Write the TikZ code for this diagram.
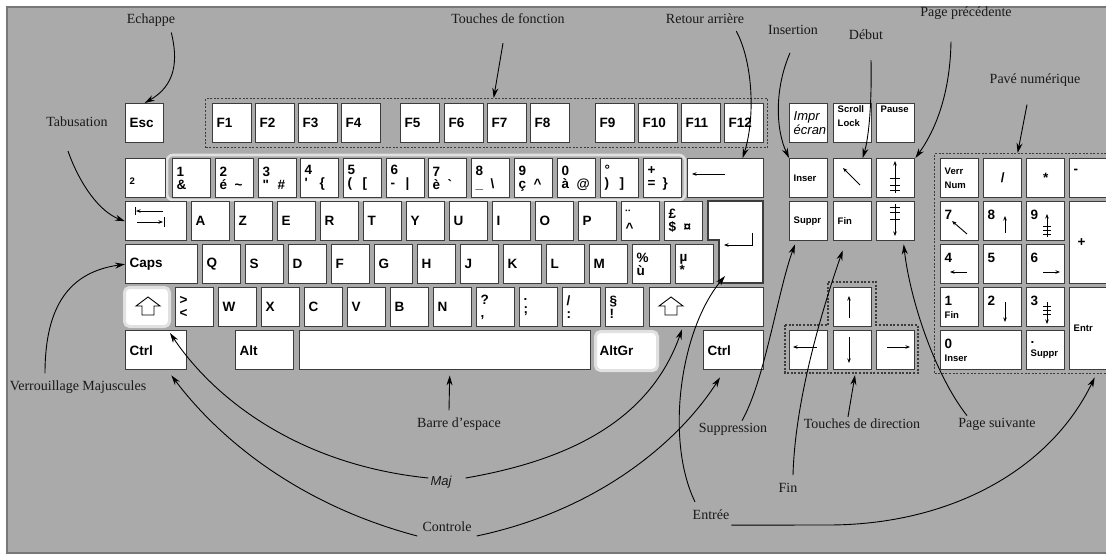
\documentclass[tikz,border=0pt]{standalone}
\usepackage{fontspec}
\setmainfont{Liberation Serif}
\setsansfont{Liberation Sans}
\usetikzlibrary{arrows.meta}

\definecolor{backgray}{RGB}{170,170,170}
\definecolor{bordergray}{RGB}{120,120,120}
\definecolor{keyedge}{RGB}{60,60,60}
\definecolor{glowgray}{RGB}{225,225,225}

\newcommand{\keypair}[2]{\makebox[15pt][l]{#1}#2}
\newcommand{\keysmall}{\fontsize{9.5}{13}\selectfont}

\tikzset{
	key/.style={draw=keyedge, line width=1.4pt, fill=white, anchor=north west, minimum height=39pt, inner xsep=4pt, inner ysep=0pt, align=left, text width=#1, font=\sffamily\bfseries\fontsize{13.5}{13}\selectfont},
	key/.default=30pt,
	smallkey/.style={font=\sffamily\bfseries\fontsize{9.5}{14}\selectfont},
	dots/.style={draw=keyedge, line width=1.3pt, dash pattern=on 2pt off 1.6pt},
	group/.style={dots, anchor=north west, inner sep=0pt},
	glow/.style={draw=glowgray, line width=2.6pt, rounded corners=6pt},
	caption/.style={font=\fontsize{14}{14}\selectfont, text=black!90, inner sep=2pt},
	pointer/.style={-{Stealth[length=10pt,width=6pt]}, line width=0.9pt},
	glyph/.style={-{Stealth[length=4.5pt,width=3.5pt]}, line width=0.9pt},
}

\begin{document}
\begin{tikzpicture}[x=1pt, y=-1pt]
	
	\useasboundingbox (0, 0) rectangle (1106, 556);
	\clip (0, 0) rectangle (1106, 556);
	\fill[white] (0, 0) rectangle (1106, 556);
	\draw[fill=backgray, draw=bordergray, line width=1.5pt] (7, 7) rectangle (1115, 553);
	
	\node[group, minimum width=562pt, minimum height=49pt] (fkeys) at (205, 98) {};
	\node[group, minimum width=190pt, minimum height=220pt] (numpad) at (934, 153) {};
	\draw[dots] (785, 325) -- (828, 325) -- (828, 282) -- (876, 282) -- (876, 325) -- (918, 325) -- (918, 373) -- (785, 373) -- cycle;
	\coordinate (dirbox) at (855, 375);
	\draw[glow] (167, 155) rectangle (685, 200);
	
	\node[key] (esc) at (125, 103) {Esc};
	\node[key=31pt] (f1)  at (212, 103) {F1};
	\node[key=31pt] (f2)  at (255, 103) {F2};
	\node[key=31pt] (f3)  at (298, 103) {F3};
	\node[key=31pt] (f4)  at (341, 103) {F4};
	\node[key=31pt] (f5)  at (400, 103) {F5};
	\node[key=31pt] (f6)  at (444, 103) {F6};
	\node[key=31pt] (f7)  at (487, 103) {F7};
	\node[key=31pt] (f8)  at (530, 103) {F8};
	\node[key=31pt] (f9)  at (595, 103) {F9};
	\node[key=31pt] (f10) at (638, 103) {F10};
	\node[key=31pt] (f11) at (681, 103) {F11};
	\node[key=31pt] (f12) at (724, 103) {F12};
	
	\node[key=32pt] (square) at (125, 158) {\mbox{}\\{\keysmall 2}};
	\node[key] (one)    at (172, 158) {1\\\&};
	\node[key] (two)    at (215, 158) {2\\\keypair{é}{\textasciitilde}};
	\node[key] (three)  at (258, 158) {3\\\keypair{\textquotedbl}{\#}};
	\node[key] (four)   at (300, 158) {4\\\keypair{\textquotesingle}{\{}};
	\node[key] (five)   at (343, 158) {5\\\keypair{(}{[}};
	\node[key] (six)    at (386, 158) {6\\\keypair{-}{|}};
	\node[key] (seven)  at (428, 158) {7\\\keypair{è}{\textasciigrave}};
	\node[key] (eight)  at (471, 158) {8\\\keypair{\_}{\textbackslash}};
	\node[key] (nine)   at (514, 158) {9\\\keypair{ç}{\textasciicircum}};
	\node[key] (zero)   at (557, 158) {0\\\keypair{à}{@}};
	\node[key] (degree) at (600, 158) {°\\\keypair{)}{]}};
	\node[key] (equal)  at (643, 158) {+\\\keypair{=}{\}}};
	\node[key=68pt] (bksp) at (687, 158) {};
	
	\node[key=53pt] (tab) at (125, 201) {};
	\node[key] (a) at (191, 201) {A};
	\node[key] (z) at (234, 201) {Z};
	\node[key] (e) at (277, 201) {E};
	\node[key] (r) at (320, 201) {R};
	\node[key] (t) at (363, 201) {T};
	\node[key] (y) at (406, 201) {Y};
	\node[key] (u) at (449, 201) {U};
	\node[key] (i) at (492, 201) {I};
	\node[key] (o) at (535, 201) {O};
	\node[key] (p) at (578, 201) {P};
	\node[key] (umlaut) at (621, 201) {¨\\\textasciicircum};
	\node[key] (pound)  at (664, 201) {£\\\keypair{\$}{¤}};
	\draw[fill=white, draw=keyedge, line width=1.4pt] (708, 201) -- (763, 201) -- (763, 283) -- (719, 283) -- (719, 240) -- (708, 240) -- cycle;
	\coordinate (enterpt) at (725, 276);
	
	\node[key=64pt] (caps) at (125, 244) {Caps};
	\node[key] (q) at (202, 244) {Q};
	\node[key] (s) at (245, 244) {S};
	\node[key] (d) at (288, 244) {D};
	\node[key] (f) at (331, 244) {F};
	\node[key] (g) at (374, 244) {G};
	\node[key] (h) at (417, 244) {H};
	\node[key] (j) at (460, 244) {J};
	\node[key] (k) at (503, 244) {K};
	\node[key] (l) at (546, 244) {L};
	\node[key] (m) at (589, 244) {M};
	\node[key] (percent) at (632, 244) {\%\\ù};
	\node[key] (mu)      at (675, 244) {µ\\{*}};
	
	\node[key=37pt, draw=glowgray, line width=3pt, rounded corners=5pt] (lshift) at (123, 286) {};
	\node[key] (less)  at (175, 287) {>\\<};
	\node[key] (w)     at (218, 287) {W};
	\node[key] (x)     at (261, 287) {X};
	\node[key] (c)     at (304, 287) {C};
	\node[key] (v)     at (347, 287) {V};
	\node[key] (b)     at (390, 287) {B};
	\node[key] (n)     at (433, 287) {N};
	\node[key] (comma) at (476, 287) {?\\,};
	\node[key] (semi)  at (519, 287) {.\\;};
	\node[key] (colon) at (562, 287) {/\\:};
	\node[key] (excl)  at (605, 287) {§\\!};
	\node[key=106pt] (rshift) at (649, 287) {};
	
	\node[key=53pt] (lctrl) at (125, 330) {Ctrl};
	\node[key=50pt] (alt)   at (235, 330) {Alt};
	\node[key=283pt] (space) at (299, 330) {};
	\node[key=54pt, draw=glowgray, line width=3pt, rounded corners=5pt] (altgr) at (594, 330) {AltGr};
	\node[key=52pt] (rctrl) at (703, 330) {Ctrl};
	
	\node[key, font=\sffamily\itshape\fontsize{13}{14}\selectfont] (impr) at (789, 103) {Impr\\écran};
	\node[key, smallkey] (scroll) at (833, 103) {Scroll\\Lock\\\mbox{}};
	\node[key, smallkey] (pause)  at (876, 103) {Pause\\\mbox{}\\\mbox{}};
	\node[key, smallkey] (inser)  at (789, 158) {Inser};
	\node[key] (home)   at (833, 158) {};
	\node[key] (pgup)   at (876, 158) {};
	\node[key, smallkey] (suppr)  at (789, 201) {Suppr};
	\node[key, smallkey] (endkey) at (833, 201) {Fin};
	\node[key] (pgdn)   at (876, 201) {};
	\node[key] (up)     at (833, 287) {};
	\node[key] (left)   at (789, 330) {};
	\node[key] (down)   at (833, 330) {};
	\node[key] (right)  at (876, 330) {};
	
	\node[key, smallkey] (verr) at (940, 158) {Verr\\Num};
	\node[key, align=center] (kpslash) at (983, 158) {/};
	\node[key, align=center] (kpstar)  at (1026, 158) {*};
	\node[key=32pt] (kpminus) at (1069, 158) {-\\\mbox{}};
	\node[key] (kpseven) at (940, 201) {7\\\mbox{}};
	\node[key] (kpeight) at (983, 201) {8\\\mbox{}};
	\node[key] (kpnine)  at (1026, 201) {9\\\mbox{}};
	\node[key=32pt, minimum height=82pt] (kpplus) at (1069, 201) {\hspace{4pt}+};
	\node[key] (kpfour)  at (940, 244) {4\\\mbox{}};
	\node[key] (kpfive)  at (983, 244) {5\\\mbox{}};
	\node[key] (kpsix)   at (1026, 244) {6\\\mbox{}};
	\node[key] (kpone)   at (940, 287) {1\\{\keysmall Fin}};
	\node[key] (kptwo)   at (983, 287) {2\\\mbox{}};
	\node[key] (kpthree) at (1026, 287) {3\\\mbox{}};
	\node[key=32pt, smallkey, minimum height=82pt] (kpenter) at (1069, 287) {Entr};
	\node[key=73pt] (kpzero) at (940, 330) {0\\{\keysmall Inser}};
	\node[key] (kpdot)  at (1026, 330) {.\\{\keysmall Suppr}};
	
	\draw[glyph] (725, 174) -- (692, 174);
	\draw[glyph] (163, 211) -- (136, 211);
	\draw[line width=0.9pt] (135, 207) -- (135, 215);
	\draw[glyph] (137, 222) -- (163, 222);
	\draw[line width=0.9pt] (164, 217) -- (164, 227);
	\draw[glyph] (752, 233) -- (752, 245) -- (724, 245);
	\draw[line width=0.9pt] (148, 297) -- (136, 306) -- (142, 306) -- (142, 315) -- (154, 315) -- (154, 306) -- (160, 306) -- cycle;
	\draw[line width=0.9pt] (671, 297) -- (659, 306) -- (665, 306) -- (665, 315) -- (677, 315) -- (677, 306) -- (683, 306) -- cycle;
	
	\draw[glyph] (860, 185) -- (843, 168);
	\draw[glyph] (895, 193) -- (895, 161);
	\draw[line width=0.8pt] (890, 178) -- (900, 178) (890, 185) -- (900, 185) (890, 190) -- (900, 190);
	\draw[glyph] (895, 204) -- (895, 236);
	\draw[line width=0.8pt] (890, 207) -- (900, 207) (890, 212) -- (900, 212) (890, 219) -- (900, 219);
	\draw[glyph] (849, 318) -- (849, 296);
	\draw[glyph] (817, 347) -- (793, 347);
	\draw[glyph] (849, 337) -- (849, 363);
	\draw[glyph] (887, 347) -- (910, 347);
	
	\draw[glyph] (967, 234) -- (952, 221);
	\draw[glyph] (1005, 233) -- (1005, 216);
	\draw[glyph] (1047, 237) -- (1047, 214);
	\draw[line width=0.7pt] (1043, 226) -- (1051, 226) (1043, 230) -- (1051, 230) (1043, 234) -- (1051, 234);
	\draw[glyph] (967, 272) -- (950, 272);
	\draw[glyph] (1043, 272) -- (1060, 272);
	\draw[glyph] (1005, 302) -- (1005, 322);
	\draw[glyph] (1047, 302) -- (1047, 324);
	\draw[line width=0.7pt] (1043, 306) -- (1051, 306) (1043, 310) -- (1051, 310) (1043, 314) -- (1051, 314);
	
	\node[caption] (echappe)     at (151, 20)  {Echappe};
	\node[caption] (fonction)    at (508, 19)  {Touches de fonction};
	\node[caption] (retour)      at (705, 19)  {Retour arrière};
	\node[caption] (insertion)   at (793, 30)  {Insertion};
	\node[caption] (debut)       at (866, 35)  {Début};
	\node[caption] (pageprec)    at (966, 13)  {Page précédente};
	\node[caption] (pave)        at (1035, 80) {Pavé numérique};
	\node[caption] (tabul)       at (77, 122)  {Tabusation};
	\node[caption] (verrou)      at (78, 387)  {Verrouillage Majuscules};
	\node[caption] (espace)      at (459, 424) {Barre d'espace};
	\node[caption, font=\sffamily\itshape\fontsize{13}{13}\selectfont] (maj) at (441, 482) {Maj};
	\node[caption] (controle)    at (447, 527) {Controle};
	\node[caption] (suppression) at (733, 429) {Suppression};
	\node[caption] (entree)      at (711, 515) {Entrée};
	\node[caption] (fin)         at (788, 488) {Fin};
	\node[caption] (direction)   at (862, 424) {Touches de direction};
	\node[caption] (pagesuiv)    at (997, 424) {Page suivante};
	
	\draw[pointer] ([xshift=-6pt,yshift=-4pt]echappe.south east) .. controls (178, 60) and (176, 85) .. (esc.north);
	\draw[pointer] ([xshift=-5pt,yshift=-17pt]fonction.south) -- ([xshift=7pt]fkeys.north);
	\draw[pointer] ([xshift=-10pt,yshift=-5pt]retour.south east) .. controls (752, 60) and (756, 115) .. ([xshift=17pt]bksp.north);
	\draw[pointer] ([xshift=-3pt,yshift=-16pt]insertion.south) .. controls (774, 90) and (776, 130) .. (inser.north west);
	\draw[pointer] ([xshift=5pt,yshift=-18pt]debut.south) .. controls (872, 110) and (868, 140) .. ([xshift=10pt]home.north);
	\draw[pointer] ([xshift=-15pt,yshift=-20pt]pageprec.south) .. controls (950, 100) and (932, 135) .. (pgup.north east);
	\draw[pointer] ([xshift=-8pt,yshift=-16pt]pave.south) -- ([xshift=-12pt]numpad.north);
	\draw[pointer] ([xshift=-9pt,yshift=-22pt]tabul.south) .. controls (80, 185) and (100, 212) .. (tab.west);
	\draw[pointer] ([xshift=-33pt,yshift=5pt]verrou.north) .. controls (45, 305) and (70, 272) .. (caps.west);
	\draw[pointer] ([xshift=-10pt,yshift=5pt]espace.north) -- ([xshift=4.5pt,yshift=-5pt]space.south);
	\draw[pointer] ([yshift=4pt]maj.west) .. controls (300, 465) and (215, 400) .. ([xshift=-1pt,yshift=-5pt]lshift.south east);
	\draw[pointer] ([xshift=12pt,yshift=4pt]maj.east) .. controls (570, 460) and (650, 420) .. ([xshift=33pt,yshift=-2pt]rshift.south west);
	\draw[pointer] ([xshift=-3pt,yshift=-9pt]controle.west) .. controls (300, 505) and (220, 440) .. ([xshift=-16pt,yshift=-5pt]lctrl.south east);
	\draw[pointer] ([xshift=3pt,yshift=-9pt]controle.east) .. controls (600, 510) and (680, 440) .. ([xshift=17pt,yshift=-7pt]rctrl.south west);
	\draw[pointer] ([xshift=9pt]suppression.north) .. controls (765, 380) and (778, 290) .. ([xshift=6pt,yshift=-3pt]suppr.south west);
	\draw[pointer] ([xshift=-16pt,yshift=6pt]entree.north) .. controls (665, 440) and (680, 330) .. (enterpt);
	\draw[pointer] ([yshift=-3pt]entree.south east) -- (828, 525) .. controls (950, 525) and (1050, 470) .. ([xshift=5pt,yshift=-7pt]kpenter.south);
	\draw[pointer] ([xshift=5pt,yshift=6pt]fin.north) .. controls (795, 400) and (822, 310) .. ([xshift=-10pt,yshift=-9pt]endkey.south);
	\draw[pointer] ([xshift=-14pt]direction.north) -- (dirbox);
	\draw[pointer] ([xshift=-30pt]pagesuiv.north) .. controls (935, 375) and (910, 300) .. ([xshift=8pt,yshift=-3pt]pgdn.south);
	
\end{tikzpicture}
\end{document}
